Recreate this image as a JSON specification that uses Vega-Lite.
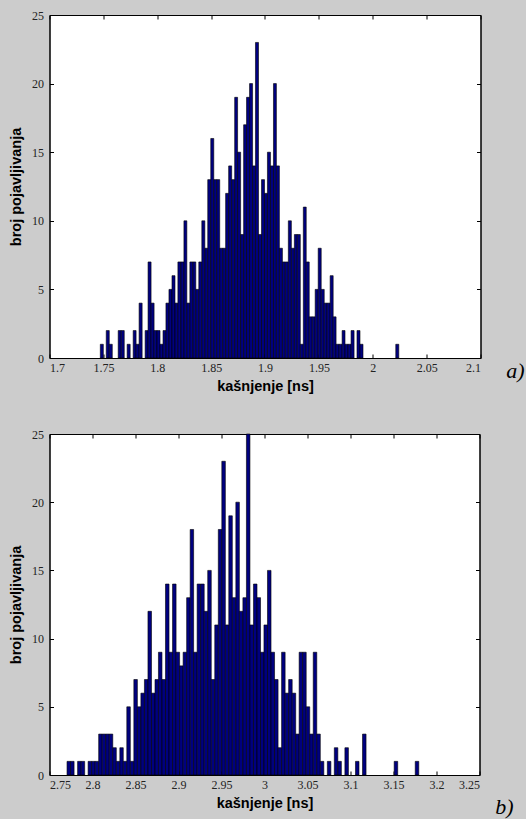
{
  "$schema": "https://vega.github.io/schema/vega-lite/v6.json",
  "background": "#cccccc",
  "padding": {"left": 7.5, "top": 8, "right": 0, "bottom": 0},
  "spacing": 34,
  "config": {
    "view": {"fill": "white", "stroke": "black", "strokeWidth": 1},
    "bar": {"binSpacing": 0},
    "axis": {"grid": false, "domainColor": "black", "tickColor": "black", "tickSize": -4, "labelFont": "Liberation Sans Narrow", "labelFontSize": 12, "labelColor": "#222222", "titleFont": "Liberation Sans", "titleFontSize": 14.5, "titleFontWeight": "bold", "titleColor": "black", "labelPadding": 8, "titlePadding": 6},
    "axisLeft": {"labelPadding": 10, "titlePadding": 8.5},
    "title": {"font": "Liberation Serif", "fontStyle": "italic", "fontSize": 22, "fontWeight": "normal", "color": "black"}
  },
  "datasets": {
    "a": [
      {"lo": 1.7467, "hi": 1.7495, "n": 1}, {"lo": 1.7522, "hi": 1.7550, "n": 2}, {"lo": 1.7550, "hi": 1.7578, "n": 1},
      {"lo": 1.7633, "hi": 1.7661, "n": 2}, {"lo": 1.7661, "hi": 1.7689, "n": 2}, {"lo": 1.7716, "hi": 1.7744, "n": 1},
      {"lo": 1.7772, "hi": 1.7799, "n": 2}, {"lo": 1.7799, "hi": 1.7827, "n": 1}, {"lo": 1.7827, "hi": 1.7855, "n": 4},
      {"lo": 1.7883, "hi": 1.7910, "n": 2}, {"lo": 1.7910, "hi": 1.7938, "n": 7}, {"lo": 1.7938, "hi": 1.7966, "n": 4},
      {"lo": 1.7966, "hi": 1.7993, "n": 2}, {"lo": 1.7993, "hi": 1.8021, "n": 2}, {"lo": 1.8021, "hi": 1.8049, "n": 1},
      {"lo": 1.8049, "hi": 1.8076, "n": 2}, {"lo": 1.8076, "hi": 1.8104, "n": 4}, {"lo": 1.8104, "hi": 1.8132, "n": 5},
      {"lo": 1.8132, "hi": 1.8160, "n": 6}, {"lo": 1.8160, "hi": 1.8187, "n": 4}, {"lo": 1.8187, "hi": 1.8215, "n": 7},
      {"lo": 1.8215, "hi": 1.8243, "n": 7}, {"lo": 1.8243, "hi": 1.8270, "n": 10}, {"lo": 1.8270, "hi": 1.8298, "n": 4},
      {"lo": 1.8298, "hi": 1.8326, "n": 7}, {"lo": 1.8326, "hi": 1.8353, "n": 7}, {"lo": 1.8353, "hi": 1.8381, "n": 5},
      {"lo": 1.8381, "hi": 1.8409, "n": 7}, {"lo": 1.8409, "hi": 1.8437, "n": 10}, {"lo": 1.8437, "hi": 1.8464, "n": 8},
      {"lo": 1.8464, "hi": 1.8492, "n": 13}, {"lo": 1.8492, "hi": 1.8520, "n": 16}, {"lo": 1.8520, "hi": 1.8547, "n": 13},
      {"lo": 1.8547, "hi": 1.8575, "n": 13}, {"lo": 1.8575, "hi": 1.8603, "n": 8}, {"lo": 1.8603, "hi": 1.8630, "n": 8},
      {"lo": 1.8630, "hi": 1.8658, "n": 12}, {"lo": 1.8658, "hi": 1.8686, "n": 14}, {"lo": 1.8686, "hi": 1.8714, "n": 13},
      {"lo": 1.8714, "hi": 1.8741, "n": 19}, {"lo": 1.8741, "hi": 1.8769, "n": 15}, {"lo": 1.8769, "hi": 1.8797, "n": 9},
      {"lo": 1.8797, "hi": 1.8824, "n": 17}, {"lo": 1.8824, "hi": 1.8852, "n": 19}, {"lo": 1.8852, "hi": 1.8880, "n": 20},
      {"lo": 1.8880, "hi": 1.8907, "n": 14}, {"lo": 1.8907, "hi": 1.8935, "n": 23}, {"lo": 1.8935, "hi": 1.8963, "n": 9},
      {"lo": 1.8963, "hi": 1.8991, "n": 13}, {"lo": 1.8991, "hi": 1.9018, "n": 12}, {"lo": 1.9018, "hi": 1.9046, "n": 15},
      {"lo": 1.9046, "hi": 1.9074, "n": 14}, {"lo": 1.9074, "hi": 1.9101, "n": 20}, {"lo": 1.9101, "hi": 1.9129, "n": 14},
      {"lo": 1.9129, "hi": 1.9157, "n": 8}, {"lo": 1.9157, "hi": 1.9184, "n": 7}, {"lo": 1.9184, "hi": 1.9212, "n": 7},
      {"lo": 1.9212, "hi": 1.9240, "n": 10}, {"lo": 1.9240, "hi": 1.9268, "n": 8}, {"lo": 1.9268, "hi": 1.9295, "n": 9},
      {"lo": 1.9295, "hi": 1.9323, "n": 9}, {"lo": 1.9323, "hi": 1.9351, "n": 1}, {"lo": 1.9351, "hi": 1.9378, "n": 11},
      {"lo": 1.9378, "hi": 1.9406, "n": 7}, {"lo": 1.9406, "hi": 1.9434, "n": 3}, {"lo": 1.9434, "hi": 1.9461, "n": 3},
      {"lo": 1.9461, "hi": 1.9489, "n": 5}, {"lo": 1.9489, "hi": 1.9517, "n": 8}, {"lo": 1.9517, "hi": 1.9545, "n": 5},
      {"lo": 1.9545, "hi": 1.9572, "n": 4}, {"lo": 1.9572, "hi": 1.9600, "n": 4}, {"lo": 1.9600, "hi": 1.9628, "n": 6},
      {"lo": 1.9628, "hi": 1.9655, "n": 3}, {"lo": 1.9655, "hi": 1.9683, "n": 1}, {"lo": 1.9683, "hi": 1.9711, "n": 1},
      {"lo": 1.9711, "hi": 1.9738, "n": 2}, {"lo": 1.9738, "hi": 1.9766, "n": 1}, {"lo": 1.9766, "hi": 1.9794, "n": 1},
      {"lo": 1.9794, "hi": 1.9822, "n": 2}, {"lo": 1.9849, "hi": 1.9877, "n": 2}, {"lo": 1.9877, "hi": 1.9905, "n": 1},
      {"lo": 2.0209, "hi": 2.0237, "n": 1}
    ],
    "b": [
      {"lo": 2.7698, "hi": 2.7739, "n": 1}, {"lo": 2.7739, "hi": 2.7780, "n": 1}, {"lo": 2.7821, "hi": 2.7862, "n": 1},
      {"lo": 2.7862, "hi": 2.7903, "n": 1}, {"lo": 2.7943, "hi": 2.7984, "n": 1}, {"lo": 2.7984, "hi": 2.8025, "n": 1},
      {"lo": 2.8025, "hi": 2.8066, "n": 1}, {"lo": 2.8066, "hi": 2.8107, "n": 3}, {"lo": 2.8107, "hi": 2.8148, "n": 3},
      {"lo": 2.8148, "hi": 2.8189, "n": 3}, {"lo": 2.8189, "hi": 2.8230, "n": 3}, {"lo": 2.8230, "hi": 2.8271, "n": 2},
      {"lo": 2.8271, "hi": 2.8312, "n": 1}, {"lo": 2.8312, "hi": 2.8352, "n": 2}, {"lo": 2.8352, "hi": 2.8393, "n": 1},
      {"lo": 2.8393, "hi": 2.8434, "n": 5}, {"lo": 2.8434, "hi": 2.8475, "n": 1}, {"lo": 2.8475, "hi": 2.8516, "n": 7},
      {"lo": 2.8516, "hi": 2.8557, "n": 5}, {"lo": 2.8557, "hi": 2.8598, "n": 6}, {"lo": 2.8598, "hi": 2.8639, "n": 7},
      {"lo": 2.8639, "hi": 2.8680, "n": 12}, {"lo": 2.8680, "hi": 2.8721, "n": 6}, {"lo": 2.8721, "hi": 2.8761, "n": 7},
      {"lo": 2.8761, "hi": 2.8802, "n": 9}, {"lo": 2.8802, "hi": 2.8843, "n": 7}, {"lo": 2.8843, "hi": 2.8884, "n": 14},
      {"lo": 2.8884, "hi": 2.8925, "n": 9}, {"lo": 2.8925, "hi": 2.8966, "n": 14}, {"lo": 2.8966, "hi": 2.9007, "n": 9},
      {"lo": 2.9007, "hi": 2.9048, "n": 8}, {"lo": 2.9048, "hi": 2.9089, "n": 9}, {"lo": 2.9089, "hi": 2.9130, "n": 13},
      {"lo": 2.9130, "hi": 2.9170, "n": 18}, {"lo": 2.9170, "hi": 2.9211, "n": 9}, {"lo": 2.9211, "hi": 2.9252, "n": 14},
      {"lo": 2.9252, "hi": 2.9293, "n": 14}, {"lo": 2.9293, "hi": 2.9334, "n": 12}, {"lo": 2.9334, "hi": 2.9375, "n": 15},
      {"lo": 2.9375, "hi": 2.9416, "n": 7}, {"lo": 2.9416, "hi": 2.9457, "n": 11}, {"lo": 2.9457, "hi": 2.9498, "n": 18},
      {"lo": 2.9498, "hi": 2.9539, "n": 23}, {"lo": 2.9539, "hi": 2.9579, "n": 11}, {"lo": 2.9579, "hi": 2.9620, "n": 19},
      {"lo": 2.9620, "hi": 2.9661, "n": 13}, {"lo": 2.9661, "hi": 2.9702, "n": 20}, {"lo": 2.9702, "hi": 2.9743, "n": 12},
      {"lo": 2.9743, "hi": 2.9784, "n": 13}, {"lo": 2.9784, "hi": 2.9825, "n": 25}, {"lo": 2.9825, "hi": 2.9866, "n": 11},
      {"lo": 2.9866, "hi": 2.9907, "n": 14}, {"lo": 2.9907, "hi": 2.9948, "n": 13}, {"lo": 2.9948, "hi": 2.9988, "n": 9},
      {"lo": 2.9988, "hi": 3.0029, "n": 11}, {"lo": 3.0029, "hi": 3.0070, "n": 15}, {"lo": 3.0070, "hi": 3.0111, "n": 9},
      {"lo": 3.0111, "hi": 3.0152, "n": 7}, {"lo": 3.0152, "hi": 3.0193, "n": 2}, {"lo": 3.0193, "hi": 3.0234, "n": 9},
      {"lo": 3.0234, "hi": 3.0275, "n": 6}, {"lo": 3.0275, "hi": 3.0316, "n": 7}, {"lo": 3.0316, "hi": 3.0357, "n": 6},
      {"lo": 3.0357, "hi": 3.0397, "n": 3}, {"lo": 3.0397, "hi": 3.0438, "n": 9}, {"lo": 3.0438, "hi": 3.0479, "n": 9},
      {"lo": 3.0479, "hi": 3.0520, "n": 5}, {"lo": 3.0520, "hi": 3.0561, "n": 3}, {"lo": 3.0561, "hi": 3.0602, "n": 9},
      {"lo": 3.0602, "hi": 3.0643, "n": 3}, {"lo": 3.0643, "hi": 3.0684, "n": 1}, {"lo": 3.0725, "hi": 3.0766, "n": 1},
      {"lo": 3.0806, "hi": 3.0847, "n": 2}, {"lo": 3.0847, "hi": 3.0888, "n": 1}, {"lo": 3.0929, "hi": 3.0970, "n": 2},
      {"lo": 3.1052, "hi": 3.1093, "n": 1}, {"lo": 3.1134, "hi": 3.1175, "n": 3}, {"lo": 3.1502, "hi": 3.1543, "n": 1},
      {"lo": 3.1747, "hi": 3.1788, "n": 1}
    ]
  },
  "vconcat": [
    {
      "width": 431,
      "height": 343,
      "title": {"text": "a)", "orient": "right", "anchor": "end", "frame": "group", "angle": 0, "align": "left", "baseline": "top", "offset": 7, "dy": 3},
      "data": {"name": "a"},
      "layer": [
        {
          "mark": {"type": "bar", "fill": "#00007f", "stroke": "black", "strokeWidth": 0.6},
          "encoding": {
            "x": {"field": "lo", "type": "quantitative", "bin": "binned", "scale": {"domain": [1.7, 2.1], "nice": false, "zero": false}, "axis": {"values": [1.7, 1.75, 1.8, 1.85, 1.9, 1.95, 2.0, 2.05, 2.1], "format": ".2~f", "title": "kašnjenje [ns]"}},
            "x2": {"field": "hi"},
            "y": {"field": "n", "type": "quantitative", "scale": {"domain": [0, 25], "nice": false}, "axis": {"values": [0, 5, 10, 15, 20, 25], "title": "broj pojavljivanja"}}
          }
        },
        {
          "mark": {"type": "bar", "opacity": 0},
          "encoding": {
            "x": {"field": "lo", "type": "quantitative", "bin": "binned", "axis": {"orient": "top", "values": [1.7, 1.75, 1.8, 1.85, 1.9, 1.95, 2.0, 2.05, 2.1], "labels": false, "title": null}},
            "x2": {"field": "hi"},
            "y": {"field": "n", "type": "quantitative", "axis": {"orient": "right", "values": [0, 5, 10, 15, 20, 25], "labels": false, "title": null}}
          }
        }
      ],
      "resolve": {"axis": {"x": "independent", "y": "independent"}}
    },
    {
      "width": 430,
      "height": 341,
      "title": {"text": "b)", "orient": "right", "anchor": "end", "frame": "group", "angle": 0, "align": "left", "baseline": "top", "offset": -3, "dy": 22},
      "data": {"name": "b"},
      "layer": [
        {
          "mark": {"type": "bar", "fill": "#00007f", "stroke": "black", "strokeWidth": 0.6},
          "encoding": {
            "x": {"field": "lo", "type": "quantitative", "bin": "binned", "scale": {"domain": [2.75, 3.25], "nice": false, "zero": false}, "axis": {"values": [2.75, 2.8, 2.85, 2.9, 2.95, 3.0, 3.05, 3.1, 3.15, 3.2, 3.25], "format": ".2~f", "title": "kašnjenje [ns]"}},
            "x2": {"field": "hi"},
            "y": {"field": "n", "type": "quantitative", "scale": {"domain": [0, 25], "nice": false}, "axis": {"values": [0, 5, 10, 15, 20, 25], "title": "broj pojavljivanja"}}
          }
        },
        {
          "mark": {"type": "bar", "opacity": 0},
          "encoding": {
            "x": {"field": "lo", "type": "quantitative", "bin": "binned", "axis": {"orient": "top", "values": [2.75, 2.8, 2.85, 2.9, 2.95, 3.0, 3.05, 3.1, 3.15, 3.2, 3.25], "labels": false, "title": null}},
            "x2": {"field": "hi"},
            "y": {"field": "n", "type": "quantitative", "axis": {"orient": "right", "values": [0, 5, 10, 15, 20, 25], "labels": false, "title": null}}
          }
        }
      ],
      "resolve": {"axis": {"x": "independent", "y": "independent"}}
    }
  ]
}
